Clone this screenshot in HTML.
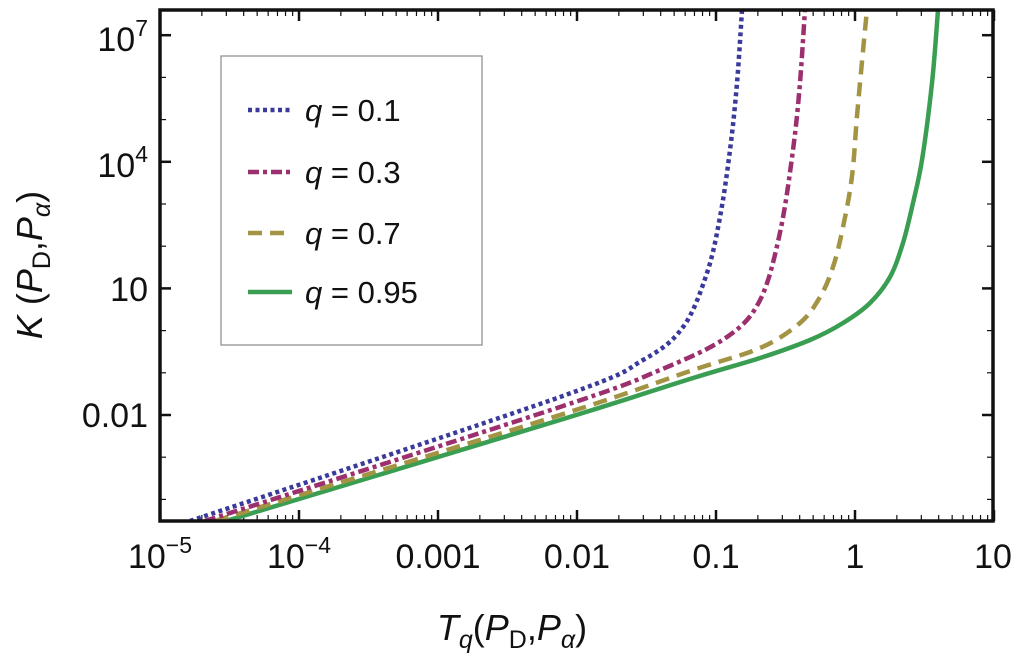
<!DOCTYPE html>
<html><head><meta charset="utf-8"><style>
body{margin:0;background:#fff;}
svg{display:block;font-family:"Liberation Sans",sans-serif;}
</style></head><body>
<svg id="chart" width="1024" height="668" viewBox="0 0 1024 668">
<defs><clipPath id="plotclip"><rect x="160" y="10" width="833" height="511"/></clipPath></defs>
<g id="ticks"></g>
<g id="curves" clip-path="url(#plotclip)"></g>
<rect x="160" y="10" width="833" height="511" fill="none" stroke="#111" stroke-width="3.5"/>
<g font-size="34" fill="#111" text-anchor="middle">
<text x="160" y="568">10<tspan font-size="23" dy="-15">−5</tspan></text>
<text x="299" y="568">10<tspan font-size="23" dy="-15">−4</tspan></text>
<text x="438" y="568">0.001</text>
<text x="577" y="568">0.01</text>
<text x="716" y="568">0.1</text>
<text x="855" y="568">1</text>
<text x="993" y="568">10</text>
</g>
<g font-size="34" fill="#111" text-anchor="end">
<text x="148" y="51">10<tspan font-size="23" dy="-15">7</tspan></text>
<text x="148" y="177">10<tspan font-size="23" dy="-15">4</tspan></text>
<text x="148" y="301">10</text>
<text x="148" y="427">0.01</text>
</g>
<text x="512" y="640" font-size="36" text-anchor="middle" fill="#111"><tspan font-style="italic">T</tspan><tspan font-style="italic" font-size="25" dy="8">q</tspan><tspan dy="-8">(</tspan><tspan font-style="italic">P</tspan><tspan font-size="25" dy="8">D</tspan><tspan dy="-8">,</tspan><tspan font-style="italic">P</tspan><tspan font-style="italic" font-size="25" dy="8">α</tspan><tspan dy="-8">)</tspan></text>
<text transform="translate(42,265) rotate(-90)" font-size="36" text-anchor="middle" fill="#111"><tspan font-style="italic">K</tspan> (<tspan font-style="italic">P</tspan><tspan font-size="25" dy="8">D</tspan><tspan dy="-8">,</tspan><tspan font-style="italic">P</tspan><tspan font-style="italic" font-size="25" dy="8">α</tspan><tspan dy="-8">)</tspan></text>
<g>
<rect x="221" y="56" width="261" height="289" fill="#fff" stroke="#888" stroke-width="1.2"/>
<g><line x1="248" y1="110" x2="292" y2="110" stroke="#3a3a9c" stroke-width="4.5" stroke-dasharray="4,3.5"/><text x="305" y="121" font-size="31" fill="#111"><tspan font-style="italic">q</tspan> = 0.1</text></g>
<g><line x1="248" y1="172" x2="292" y2="172" stroke="#9c2f6e" stroke-width="4.5" stroke-dasharray="11,4,4,4"/><text x="305" y="183" font-size="31" fill="#111"><tspan font-style="italic">q</tspan> = 0.3</text></g>
<g><line x1="248" y1="233" x2="292" y2="233" stroke="#a39444" stroke-width="4.5" stroke-dasharray="14,8"/><text x="305" y="244" font-size="31" fill="#111"><tspan font-style="italic">q</tspan> = 0.7</text></g>
<g><line x1="248" y1="292" x2="292" y2="292" stroke="#3a9e52" stroke-width="4.5"/><text x="305" y="303" font-size="31" fill="#111"><tspan font-style="italic">q</tspan> = 0.95</text></g>
</g>
</svg>
<script>
// data in log10 units
const q01LogT = [-4.784,-2.122,-1.525,-1.237,-1.065,-0.971,-0.899,-0.849,-0.813];
const q01LogK = [-4.512,-1.573,-0.697,0.085,1.365,2.692,4.280,5.867,7.597];
const q03LogT = [-4.676,-2.122,-1.403,-0.921,-0.683,-0.540,-0.446,-0.396,-0.360];
const q03LogK = [-4.512,-1.810,-0.934,-0.152,0.725,2.313,4.280,5.867,7.597];
const q07LogT = [-4.604,-2.122,-1.165,-0.683,-0.396,-0.252,-0.158,-0.086,-0.022,0.014,0.058,0.086];
const q07LogK = [-4.512,-2.000,-0.934,-0.412,0.180,0.796,1.507,2.455,3.640,5.062,6.649,7.597];
const q095LogT = [-4.525,-2.122,-1.165,-0.683,-0.324,-0.086,0.108,0.252,0.345,0.417,0.482,0.554,0.597];
const q095LogK = [-4.512,-2.118,-1.123,-0.649,-0.223,0.180,0.654,1.270,2.076,3.024,4.043,5.867,7.597];
const xTickExps = [-5,-4,-3,-2,-1,0,1];
const yTickExps = [-2,1,4,7];

const X0=160, XDEC=139, Y0=415, YDEC=42.2;
function sx(lt){return X0+(lt+5)*XDEC;}
function sy(lk){return Y0-(lk+2)*YDEC;}
const NS='http://www.w3.org/2000/svg';

function pathFor(lt,lk){
  const p=lt.map((v,i)=>[sx(v),sy(lk[i])]);
  let d='M'+p[0][0].toFixed(1)+','+p[0][1].toFixed(1);
  for(let i=0;i<p.length-1;i++){
    const a=p[i-1]||p[i], b=p[i], c=p[i+1], e=p[i+2]||c;
    const c1=[b[0]+(c[0]-a[0])/6, b[1]+(c[1]-a[1])/6];
    const c2=[c[0]-(e[0]-b[0])/6, c[1]-(e[1]-b[1])/6];
    d+=' C'+c1[0].toFixed(1)+','+c1[1].toFixed(1)+' '+c2[0].toFixed(1)+','+c2[1].toFixed(1)+' '+c[0].toFixed(1)+','+c[1].toFixed(1);
  }
  return d;
}
const series=[
 [q095LogT,q095LogK,'#3a9e52','none','curve-q095'],
 [q07LogT,q07LogK,'#a39444','14,8','curve-q07'],
 [q03LogT,q03LogK,'#9c2f6e','11,4,4,4','curve-q03'],
 [q01LogT,q01LogK,'#3a3a9c','4,3.5','curve-q01']
];
const cg=document.getElementById('curves');
series.forEach(s=>{
  const el=document.createElementNS(NS,'path');
  el.setAttribute('d',pathFor(s[0],s[1]));
  el.setAttribute('fill','none');
  el.setAttribute('stroke',s[2]);
  el.setAttribute('stroke-width','4.5');
  if(s[3]!=='none') el.setAttribute('stroke-dasharray',s[3]);
  
  
  cg.appendChild(el);
});
const tg=document.getElementById('ticks');
function tick(x1,y1,x2,y2,w){
  const l=document.createElementNS(NS,'line');
  l.setAttribute('x1',x1);l.setAttribute('y1',y1);l.setAttribute('x2',x2);l.setAttribute('y2',y2);
  l.setAttribute('stroke','#111');l.setAttribute('stroke-width',w);
  
  
  tg.appendChild(l);
}
xTickExps.forEach(e=>{
  const x=sx(e);
  tick(x,521,x,510,2.5);tick(x,10,x,21,2.5);
  if(e<1) for(let m=2;m<10;m++){const xm=sx(e+Math.log10(m));tick(xm,521,xm,515,1.2);tick(xm,10,xm,16,1.2);}
});
for(let e=-5;e<=8;e++){
  const y=sy(e);
  const major=yTickExps.includes(e);
  if(y>=10&&y<=521){
    tick(160,y,major?171:166,y,major?2.5:1.2);tick(993,y,major?982:987,y,major?2.5:1.2);
  }
}
</script>
</body></html>
